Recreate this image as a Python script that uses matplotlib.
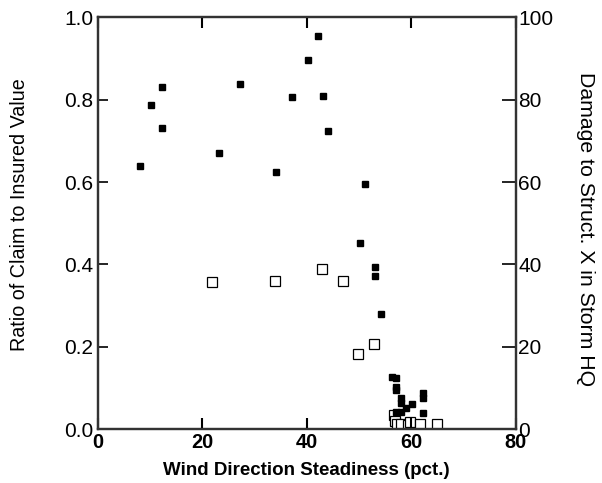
import matplotlib
matplotlib.use("Agg")
import matplotlib.pyplot as plt

plt.rcParams['font.family'] = ['Liberation Sans', 'DejaVu Sans']

# Ratio of claim to insured value (filled squares, left axis)
claim_x = [8.15, 10.2, 12.25, 12.25, 23.2, 27.2, 34.2, 37.2, 40.2, 42.2, 43.2, 44.1,
           51.2, 50.2, 53.1, 53.1, 54.2, 56.3, 57.1, 57.1, 57.1, 58.1, 58.1, 59.1,
           60.1, 57.1, 58.1, 62.2, 62.2, 62.2]
claim_y = [0.639, 0.788, 0.832, 0.731, 0.671, 0.839, 0.624, 0.807, 0.896, 0.954, 0.810, 0.725,
           0.595, 0.453, 0.393, 0.373, 0.279, 0.128, 0.125, 0.103, 0.095, 0.075, 0.065, 0.051,
           0.061, 0.041, 0.041, 0.087, 0.075, 0.040]

# Damage to Struct. X (open squares, right axis)
damage_x = [21.9, 33.9, 42.9, 46.9, 49.8, 52.9, 56.8, 56.9, 57.3, 58.1, 59.3, 59.8, 61.7, 64.9]
damage_y = [35.8, 36.1, 39.0, 36.0, 18.3, 20.8, 3.5, 1.9, 1.2, 1.2, 1.0, 1.8, 1.3, 1.2]

fig = plt.figure(figsize=(6.02, 4.83), dpi=100)
ax = fig.add_axes([0.1623, 0.1112, 0.6943, 0.853])
ax2 = ax.twinx()

ax.plot(claim_x, claim_y, 's', ms=4.2, color='black', mec='black', zorder=3)
ax2.plot(damage_x, damage_y, 's', ms=7.5, mfc='white', mec='black', mew=0.9, zorder=2)
ax.set_zorder(ax2.get_zorder() + 1)
ax.patch.set_visible(False)

ax.set_xlim(0, 80)
ax.set_ylim(0, 1.0)
ax2.set_ylim(0, 100)
ax.set_xticks([0, 20, 40, 60, 80])
ax.set_yticks([0, 0.2, 0.4, 0.6, 0.8, 1.0])
ax.set_yticklabels(['0.0', '0.2', '0.4', '0.6', '0.8', '1.0'])
ax2.set_yticks([0, 20, 40, 60, 80, 100])

for a in (ax, ax2):
    for s in a.spines.values():
        s.set_linewidth(1.6)
        s.set_color('#333333')

ax.tick_params(axis='x', which='both', direction='in', length=8, width=1.5,
               top=True, labelsize=14.4, pad=3)
for lab in ax.get_xticklabels():
    lab.set_fontweight('bold')
ax.tick_params(axis='y', direction='in', length=7, width=1.2, labelsize=15, pad=3)
ax2.tick_params(axis='y', direction='in', length=10, width=1.2, labelsize=15, pad=2)

ax.set_xlabel('Wind Direction Steadiness (pct.)', fontsize=13.5, fontweight='bold',
              va='center')
ax.xaxis.set_label_coords(0.5, -0.099)
ax.set_ylabel('Ratio of Claim to Insured Value', fontsize=14.2, va='center')
ax.yaxis.set_label_coords(-0.186, 0.52)
ax2.set_ylabel('Damage to Struct. X in Storm HQ', fontsize=15.3, rotation=270, va='center')
ax2.yaxis.set_label_coords(1.166, 0.485)

fig.savefig('out.png', dpi=100)
